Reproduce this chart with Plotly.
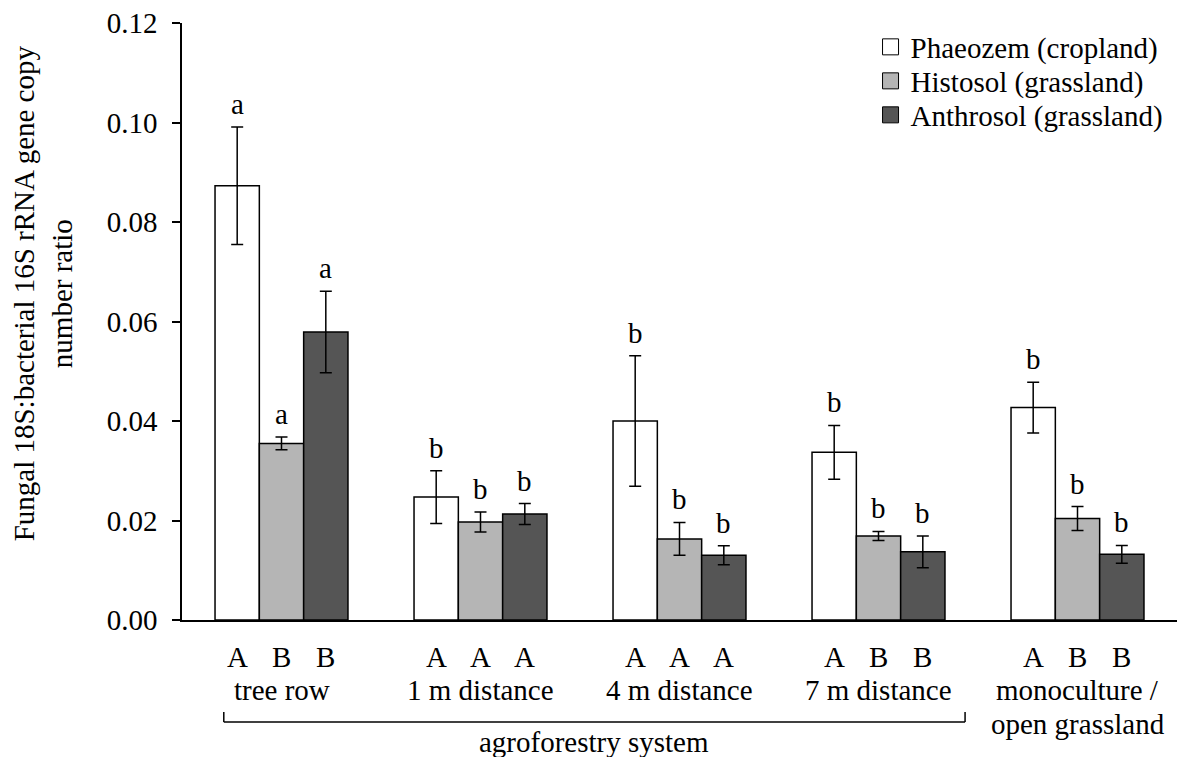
import plotly.graph_objects as go

# ---------------- data ----------------
groups = ["tree row", "1 m distance", "4 m distance", "7 m distance", "monoculture /|open grassland"]
series_names = ["Phaeozem (cropland)", "Histosol (grassland)", "Anthrosol (grassland)"]

phaeozem = [0.0873, 0.0247, 0.0400, 0.0337, 0.0427]
phaeozem_err = [0.0118, 0.0053, 0.0131, 0.0054, 0.0051]
histosol = [0.0355, 0.0197, 0.0163, 0.0169, 0.0204]
histosol_err = [0.0013, 0.0020, 0.0033, 0.0009, 0.0024]
anthrosol = [0.0579, 0.0213, 0.0130, 0.0137, 0.0132]
anthrosol_err = [0.0082, 0.0021, 0.0019, 0.0032, 0.0018]

# lower-case letters: differences between positions within one soil
phaeozem_sig = ["a", "b", "b", "b", "b"]
histosol_sig = ["a", "b", "b", "b", "b"]
anthrosol_sig = ["a", "b", "b", "b", "b"]

# upper-case letters: differences between soils within one position
soil_sig = [["A", "B", "B"], ["A", "A", "A"], ["A", "A", "A"], ["A", "B", "B"], ["A", "B", "B"]]

y_ticks = [0.00, 0.02, 0.04, 0.06, 0.08, 0.10, 0.12]
y_title = "Fungal 18S:bacterial 16S rRNA gene copy<br>number ratio"
bracket_label = "agroforestry system"
bracket_groups = [0, 3]  # first and last group of the agroforestry system

# ---------------- style ----------------
FONT = "Liberation Serif, Times New Roman, serif"
FS = 29
colors = ["#ffffff", "#b5b5b5", "#555555"]
BARGAP = 0.332
BW = (1 - BARGAP) / 3  # width of one bar in axis units


def py(p):
    """paper y for a pixel row measured from the top of the 757 px canvas"""
    return (620 - p) / 597.0


values = [phaeozem, histosol, anthrosol]
errors = [phaeozem_err, histosol_err, anthrosol_err]
sigs = [phaeozem_sig, histosol_sig, anthrosol_sig]
xs = list(range(len(groups)))
legend_ids = ["legend", "legend2", "legend3"]
legend_rows = [47, 81, 115]

fig = go.Figure()
for k in range(3):
    fig.add_trace(go.Bar(
        x=xs, y=values[k], name=series_names[k], showlegend=False,
        marker=dict(color=colors[k], line=dict(color="black", width=1.5)),
        error_y=dict(type="data", array=errors[k], visible=True,
                     color="black", thickness=1.5, width=6),
    ))
    # legend entry with a bigger square
    fig.add_trace(go.Scatter(
        x=[None], y=[None], mode="markers", name=series_names[k],
        legend=legend_ids[k],
        marker=dict(symbol="square", size=16, color=colors[k],
                    line=dict(color="black", width=1)),
    ))

annotations = []
# significance letters above error bars
for k in range(3):
    for i in xs:
        annotations.append(dict(
            x=i + (k - 1) * BW, y=values[k][i] + errors[k][i],
            xref="x", yref="y", text=sigs[k][i], showarrow=False,
            yanchor="bottom", yshift=5, font=dict(family=FONT, size=FS, color="black"),
        ))

# soil letters under each bar
for i in xs:
    for k in range(3):
        annotations.append(dict(
            x=i + (k - 1) * BW, y=py(657), xref="x", yref="paper",
            text=soil_sig[i][k], showarrow=False, yanchor="middle",
            font=dict(family=FONT, size=FS, color="black"),
        ))
# group names
for i, g in enumerate(groups):
    for j, line in enumerate(g.split("|")):
        annotations.append(dict(
            x=i, y=py(690 + 34 * j), xref="x", yref="paper", text=line,
            showarrow=False, yanchor="middle",
            font=dict(family=FONT, size=FS, color="black"),
        ))

# bracket for the agroforestry system
bx0 = bracket_groups[0] - 0.29
bx1 = bracket_groups[1] + 0.435
shapes = [
    dict(type="line", xref="x", yref="paper", x0=bx0, x1=bx1, y0=py(722), y1=py(722),
         line=dict(color="black", width=1.5)),
    dict(type="line", xref="x", yref="paper", x0=bx0, x1=bx0, y0=py(722), y1=py(712),
         line=dict(color="black", width=1.5)),
    dict(type="line", xref="x", yref="paper", x0=bx1, x1=bx1, y0=py(722), y1=py(712),
         line=dict(color="black", width=1.5)),
]
annotations.append(dict(
    x=(bx0 + bx1) / 2, y=py(742), xref="x", yref="paper", text=bracket_label,
    showarrow=False, yanchor="middle", font=dict(family=FONT, size=FS, color="black"),
))
# y-axis title
annotations.append(dict(
    x=-0.1395, y=0.5475, xref="paper", yref="paper", text=y_title, textangle=-90,
    showarrow=False, xanchor="center", yanchor="middle", align="center",
    font=dict(family=FONT, size=FS, color="black"),
))

legend_common = dict(x=0.692, xanchor="left", yanchor="middle",
                     bgcolor="rgba(0,0,0,0)", font=dict(family=FONT, size=FS, color="black"),
                     itemwidth=30)

fig.update_layout(
    width=1183, height=757,
    margin=dict(l=182, r=6, t=23, b=137),
    paper_bgcolor="white", plot_bgcolor="white",
    barmode="group", bargap=BARGAP, bargroupgap=0,
    font=dict(family=FONT, size=FS, color="black"),
    xaxis=dict(range=[-0.5, len(groups) - 0.5], showticklabels=False, ticks="",
               showline=True, linecolor="black", linewidth=1.5, showgrid=False,
               zeroline=False, fixedrange=True),
    yaxis=dict(range=[0, 0.12], tickvals=y_ticks, tickformat=".2f", ticks="outside",
               ticklen=8, tickwidth=1.5, tickcolor="black", showline=True,
               linecolor="black", linewidth=1.5, showgrid=False, zeroline=False,
               ticklabelstandoff=9, tickfont=dict(family=FONT, size=FS, color="black")),
    legend=dict(y=py(legend_rows[0]), **legend_common),
    legend2=dict(y=py(legend_rows[1]), **legend_common),
    legend3=dict(y=py(legend_rows[2]), **legend_common),
    annotations=annotations, shapes=shapes,
)

fig.write_html("out.html", config={"displayModeBar": False},
               post_script="document.body.style.margin='0';")
